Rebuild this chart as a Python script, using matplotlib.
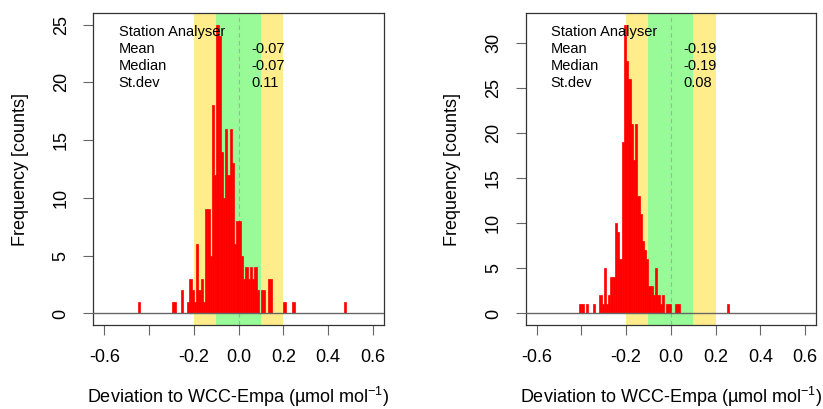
import matplotlib
matplotlib.use("Agg")
import matplotlib.pyplot as plt
import numpy as np

plt.rcParams['font.family'] = ['Liberation Sans', 'DejaVu Sans']
plt.rcParams['mathtext.fontset'] = 'custom'
plt.rcParams['mathtext.rm'] = 'Liberation Sans'
plt.rcParams['mathtext.it'] = 'Liberation Sans:italic'

# ---- data (bin left edges in µmol/mol, bin width 0.01) ----
bin_width = 0.01
left_bins = [-0.45, -0.30, -0.29, -0.26, -0.23, -0.22, -0.21, -0.20, -0.19, -0.18,
             -0.17, -0.16, -0.15, -0.14, -0.13, -0.12, -0.11, -0.10, -0.09, -0.08,
             -0.07, -0.06, -0.05, -0.04, -0.03, -0.02, -0.01, 0.00, 0.01, 0.02,
             0.03, 0.04, 0.05, 0.06, 0.07, 0.08, 0.10, 0.11, 0.13, 0.14,
             0.20, 0.24, 0.47]
left_counts = [1, 1, 1, 2, 1, 3, 2, 1, 6, 2,
               3, 1, 9, 9, 5, 18, 12, 25, 24, 14,
               10, 16, 12, 16, 13, 6, 8, 8, 5, 3,
               4, 3, 4, 3, 4, 2, 2, 2, 3, 3,
               1, 1, 1]

right_bins = [-0.41, -0.40, -0.38, -0.35, -0.32, -0.31, -0.30, -0.29, -0.28, -0.27,
              -0.26, -0.25, -0.24, -0.23, -0.22, -0.21, -0.20, -0.19, -0.18, -0.17,
              -0.16, -0.15, -0.14, -0.13, -0.12, -0.11, -0.10, -0.09, -0.08, -0.07,
              -0.06, -0.05, -0.04, -0.02, -0.01, 0.02, 0.03, 0.25]
right_counts = [1, 1, 1, 1, 2, 1, 5, 1, 2, 4,
                4, 10, 9, 6, 19, 32, 28, 26, 21, 17,
                21, 13, 11, 8, 7, 6, 3, 3, 2, 5,
                2, 1, 2, 1, 1, 1, 1, 1]

stat_labels = ["Mean", "Median", "St.dev"]
left_stats = ["-0.07", "-0.07", "0.11"]
right_stats = ["-0.19", "-0.19", "0.08"]
title_text = "Station Analyser"

xticks = [-0.6, -0.4, -0.2, 0.0, 0.2, 0.4, 0.6]
xticklabels = ["-0.6", "", "-0.2", "0.0", "0.2", "0.4", "0.6"]
left_yticks = [0, 5, 10, 15, 20, 25]
right_yticks = [0, 5, 10, 15, 20, 25, 30]

xlabel = "Deviation to WCC-Empa (µmol mol$^{-1}$)"
ylabel = "Frequency [counts]"

W, H = 823, 409
fig = plt.figure(figsize=(W / 100, H / 100), dpi=100)

def panel(left_px, bins, counts, yticks, stats):
    ax = fig.add_axes([left_px / W, 1 - 325 / H, 290.7 / W, 312 / H])
    ymax = max(counts)
    ax.set_xlim(-0.65, 0.65)
    ax.set_ylim(-0.04 * ymax, 1.04 * ymax)
    ax.axvspan(-0.2, 0.2, color='#FFEC8B', lw=0, zorder=0)
    ax.axvspan(-0.1, 0.1, color='#98FB98', lw=0, zorder=0.5)
    ax.axvline(0, color='#aaaaaa', lw=0.8, ls=(0, (4, 3)), zorder=1)
    ax.bar(bins, counts, width=bin_width, align='edge', color='red',
           edgecolor='red', lw=0.5, zorder=2)
    ax.axhline(0, color='#666666', lw=1.0, zorder=3)
    ax.set_xticks(xticks)
    ax.set_xticklabels(xticklabels, fontsize=13)
    ax.set_yticks(yticks)
    ax.set_yticklabels([str(v) for v in yticks], fontsize=13, rotation=90,
                       va='center')
    ax.tick_params(axis='both', direction='out', length=7, width=0.8,
                   color='#666666', pad=10)
    for s in ax.spines.values():
        s.set_color('#333333')
        s.set_linewidth(0.9)
    ax.set_xlabel(xlabel, fontsize=13)
    ax.xaxis.set_label_coords(0.5, -72 / 312)
    ax.xaxis.label.set_va('center')
    ax.set_ylabel(ylabel, fontsize=13)
    ax.yaxis.set_label_coords(-73 / 290.7, 0.5)
    ax.yaxis.label.set_va('center')
    ys = [0.940, 0.884, 0.830, 0.777]
    ax.text(-0.537, ys[0], title_text, transform=ax.get_xaxis_transform(),
            fontsize=10.5, va='center', ha='left', zorder=5)
    for lab, val, y in zip(stat_labels, stats, ys[1:]):
        ax.text(-0.537, y, lab, transform=ax.get_xaxis_transform(),
                fontsize=10.5, va='center', ha='left', zorder=5)
        ax.text(0.058, y, val, transform=ax.get_xaxis_transform(),
                fontsize=10.5, va='center', ha='left', zorder=5)
    return ax

panel(93.3, left_bins, left_counts, left_yticks, left_stats)
panel(525.5, right_bins, right_counts, right_yticks, right_stats)

fig.savefig("out.png", dpi=100)
